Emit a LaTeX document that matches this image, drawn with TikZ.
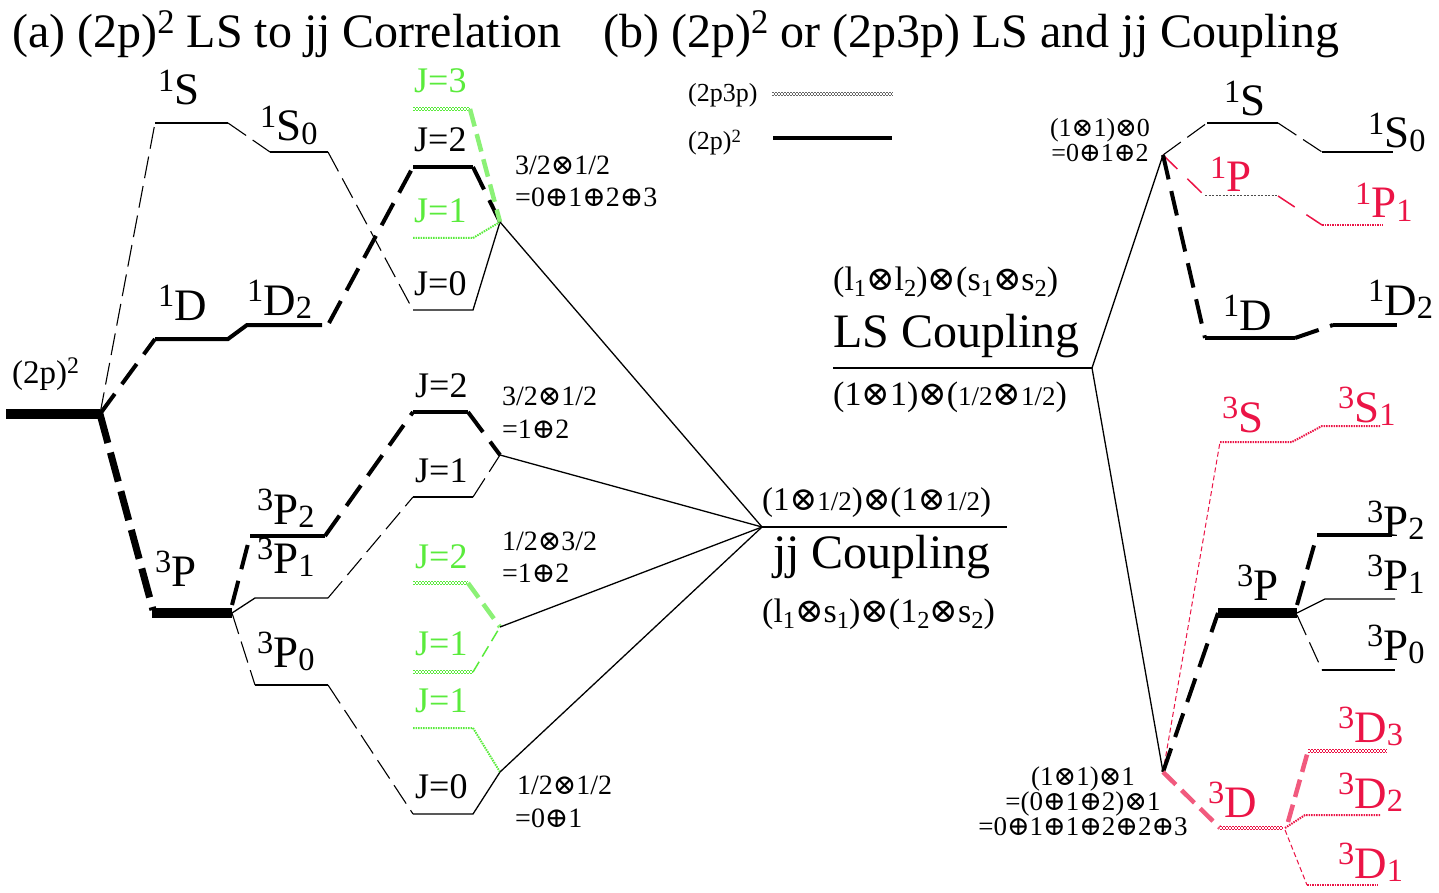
\documentclass[tikz,border=0pt]{standalone}
\usepackage{graphicx}
\usepackage{fontspec}
\setmainfont{Liberation Serif}
\newfontfamily\symf{DejaVu Serif}
\definecolor{lgreen}{RGB}{90,235,60}
\definecolor{pred}{RGB}{235,20,70}
\newcommand{\sps}[1]{\raisebox{0.3em}{\scalebox{0.72}{#1}}}
\newcommand{\sbs}[1]{\raisebox{-0.08em}{\scalebox{0.72}{#1}}}
\newcommand{\sbl}[1]{\raisebox{-0.2em}{\scalebox{0.72}{#1}}}
\newcommand{\trm}[2]{\sps{#1}#2}
\newcommand{\trmj}[3]{\sps{#1}#2\sbs{#3}}
\newcommand{\xot}{{\symf ⊗}}
\newcommand{\xop}{{\symf ⊕}}
\newcommand{\hlf}{{\fontsize{27}{28}\selectfont 1/2}}

\begin{document}
\begin{tikzpicture}[x=1pt,y=-1pt,
  ttl/.style={anchor=base west, inner sep=0pt, font=\fontsize{48}{52}\selectfont},
  trm/.style={anchor=base west, inner sep=0pt, font=\fontsize{45}{50}\selectfont},
  jlab/.style={anchor=base west, inner sep=0pt, font=\fontsize{36}{40}\selectfont},
  note/.style={anchor=base west, inner sep=0pt, font=\fontsize{28}{32}\selectfont},
  sml/.style={anchor=base, inner sep=0pt, font=\fontsize{26}{28}\selectfont},
  thinl/.style={line width=1.3pt},
  lmid/.style={line width=4pt},
  lfat/.style={line width=10pt},
  dthin/.style={line width=1.1pt, dash pattern=on 22pt off 8pt},
  dmid/.style={line width=4pt, dash pattern=on 25pt off 12pt},
  dfat/.style={line width=7pt, dash pattern=on 30pt off 10pt},
  chk/.style={draw=#1, line width=4.5pt, dash pattern=on 1.5pt off 1.5pt,
    postaction={draw=white, line width=1.5pt, dash pattern=on 1.5pt off 1.5pt},
    postaction={draw=#1, line width=1.5pt, dash pattern=on 1.5pt off 1.5pt, dash phase=1.5pt}},
  chkd/.style={draw=#1!70, line width=4.5pt, dash pattern=on 18pt off 8pt},
  gdot/.style={draw=lgreen, line width=2pt, dash pattern=on 1.5pt off 1pt},
  gdash/.style={draw=lgreen, line width=1.5pt, dash pattern=on 12pt off 6pt},
  rdot/.style={draw=pred, line width=2pt, dash pattern=on 1.5pt off 1pt},
  rdash/.style={draw=pred, line width=1.5pt, dash pattern=on 20pt off 14pt},
  rfine/.style={draw=pred, line width=1pt, dash pattern=on 5pt off 3pt}]
\useasboundingbox (0,0) rectangle (1439,893);

% Titles
\node[ttl] (tta) at (12,48) {(a) (2p)\sps{2} LS to jj Correlation};
\node[ttl] (ttb) at (603,48) {(b) (2p)\sps{2} or (2p3p) LS and jj Coupling};

% Branch points
\coordinate (pp) at (100,414);
\coordinate (jA) at (500,222);
\coordinate (jB) at (500,455);
\coordinate (jC) at (500,627);
\coordinate (jD) at (500,772);
\coordinate (jj) at (762,527);
\coordinate (jjend) at (1007,527);
\coordinate (lsbeg) at (833,368);
\coordinate (ls) at (1092,368);
\coordinate (up) at (1163,155);
\coordinate (dn) at (1163,772);

% (a) ground configuration
\draw[lfat] (6,414) -- (pp);
\node[note, font=\fontsize{33}{34}\selectfont] (cfg) at (12,383) {(2p)\sps{2}};

% (a) 1S branch
\draw[dthin] (pp) -- (155,123);
\draw[thinl] (155,123) -- (228,123);
\draw[dthin] (228,123) -- (270,152);
\draw[thinl] (270,152) -- (328,152);
\draw[dthin] (328,152) -- (413,310);
\draw[thinl] (413,310) -- (473,310) -- (jA);

% (a) 1D branch
\draw[dmid] (pp) -- (155,339);
\draw[lmid] (155,339) -- (228,339) -- (247,325) -- (322,325);
\draw[dmid] (329,323) -- (413,167);
\draw[lmid] (413,167) -- (473,167);
\draw[dmid] (473,167) -- (jA);

% (a) 3P branch
\draw[dfat] (pp) -- (153,610);
\draw[lfat] (152,613) -- (232,613);
\draw[dmid] (232,605) -- (250,536);
\draw[lmid] (250,536) -- (325,536);
\draw[dmid] (325,536) -- (413,412);
\draw[lmid] (413,412) -- (468,412);
\draw[dmid] (468,412) -- (jB);
\draw[thinl] (232,613) -- (255,598) -- (328,598);
\draw[dthin] (328,598) -- (413,497);
\draw[thinl] (413,497) -- (473,497);
\draw[dthin] (473,497) -- (jB);
\draw[dthin] (232,613) -- (255,685);
\draw[thinl] (255,685) -- (328,685);
\draw[dthin] (328,685) -- (413,814);
\draw[thinl] (413,814) -- (473,814) -- (jD);

% (a) 2p3p levels
\draw[chk=lgreen] (413,109) -- (470,109);
\draw[chkd=lgreen] (470,109) -- (jA);
\draw[gdot] (413,238) -- (473,238) -- (jA);
\draw[chk=lgreen] (413,583) -- (468,583);
\draw[chkd=lgreen] (468,583) -- (jC);
\draw[chk=lgreen] (413,672) -- (473,672);
\draw[gdash] (473,672) -- (jC);
\draw[gdot] (413,728) -- (473,728) -- (jD);

% (a) labels
\node[trm] (a1s) at (158,105) {\trm{1}{S}};
\node[trm] (a1s0) at (260,141) {\trmj{1}{S}{0}};
\node[trm] (a1d) at (158,320) {\trm{1}{D}};
\node[trm] (a1d2) at (247,315) {\trmj{1}{D}{2}};
\node[trm] (a3p) at (155,586) {\trm{3}{P}};
\node[trm] (a3p2) at (257,524) {\trmj{3}{P}{2}};
\node[trm] (a3p1) at (257,573) {\trmj{3}{P}{1}};
\node[trm] (a3p0) at (257,667) {\trmj{3}{P}{0}};
\node[jlab, lgreen] (j3a) at (414,93) {J=3};
\node[jlab] (j2a) at (414,152) {J=2};
\node[jlab, lgreen] (j1a) at (414,223) {J=1};
\node[jlab] (j0a) at (414,295) {J=0};
\node[jlab] (j2b) at (415,397) {J=2};
\node[jlab] (j1b) at (415,482) {J=1};
\node[jlab, lgreen] (j2c) at (415,568) {J=2};
\node[jlab, lgreen] (j1c) at (415,655) {J=1};
\node[jlab, lgreen] (j1d) at (415,712) {J=1};
\node[jlab] (j0d) at (415,798) {J=0};
\node[note] (ca1) at (515,175) {3/2\xot1/2};
\node[note] (ca2) at (515,207) {=0\xop1\xop2\xop3};
\node[note] (cb1) at (502,405) {3/2\xot1/2};
\node[note] (cb2) at (502,438) {=1\xop2};
\node[note] (cc1) at (502,550) {1/2\xot3/2};
\node[note] (cc2) at (502,582) {=1\xop2};
\node[note] (cd1) at (517,794) {1/2\xot1/2};
\node[note] (cd2) at (515,827) {=0\xop1};

% jj and LS coupling
\draw[thinl] (jA) -- (jj);
\draw[thinl] (jB) -- (jj);
\draw[thinl] (jC) -- (jj);
\draw[thinl] (jD) -- (jj);
\draw[thinl] (jj) -- (jjend);
\node[note, font=\fontsize{33}{34}\selectfont] (jjt) at (762,510) {(1\xot\hlf)\xot(1\xot\hlf)};
\node[ttl] (jjc) at (773,568) {jj Coupling};
\node[note, font=\fontsize{34}{36}\selectfont] (jjb) at (762,622) {(l\sbl{1}\xot s\sbl{1})\xot(1\sbl{2}\xot s\sbl{2})};
\draw[thinl] (lsbeg) -- (ls);
\draw[thinl] (ls) -- (up);
\draw[thinl] (ls) -- (dn);
\node[note, font=\fontsize{34}{36}\selectfont] (lst) at (833,290) {(l\sbl{1}\xot l\sbl{2})\xot(s\sbl{1}\xot s\sbl{2})};
\node[ttl] (lsc) at (833,347) {LS Coupling};
\node[note, font=\fontsize{34}{36}\selectfont] (lsb) at (833,405) {(1\xot1)\xot(\hlf\xot\hlf)};

% Legend
\node[note, font=\fontsize{26}{28}\selectfont] (lg1) at (688,102) {(2p3p)};
\draw[chk=black!60] (772,94) -- (893,94);
\node[note, font=\fontsize{26}{28}\selectfont] (lg2) at (688,150) {(2p)\sps{2}};
\draw[lmid] (773,138) -- (892,138);

% (b) upper group
\draw[dthin] (up) -- (1207,123);
\draw[thinl] (1207,123) -- (1278,123);
\draw[dthin] (1278,123) -- (1322,152);
\draw[thinl] (1322,152) -- (1393,152);
\draw[rdash] (up) -- (1205,196);
\draw[black!70, line width=1pt, dash pattern=on 2pt off 1.5pt] (1205,196) -- (1278,196);
\draw[rdash] (1278,196) -- (1322,225);
\draw[rdot] (1322,225) -- (1383,225);
\draw[dmid] (up) -- (1205,338);
\draw[lmid] (1205,338) -- (1295,338);
\draw[dmid] (1295,338) -- (1333,325);
\draw[lmid] (1333,325) -- (1397,325);
\node[sml] (ub1) at (1100,137) {(1\xot1)\xot0};
\node[sml] (ub2) at (1100,162) {=0\xop1\xop2};
\node[trm] (b1s) at (1224,116) {\trm{1}{S}};
\node[trm] (b1s0) at (1368,148) {\trmj{1}{S}{0}};
\node[trm, pred] (b1p) at (1210,192) {\trm{1}{P}};
\node[trm, pred] (b1p1) at (1355,218) {\trmj{1}{P}{1}};
\node[trm] (b1d) at (1223,330) {\trm{1}{D}};
\node[trm] (b1d2) at (1368,315) {\trmj{1}{D}{2}};

% (b) lower group
\draw[rfine] (dn) -- (1220,442);
\draw[rdot] (1220,442) -- (1292,442) -- (1322,426) -- (1380,426);
\draw[dmid] (dn) -- (1218,613);
\draw[lfat] (1218,613) -- (1297,613);
\draw[dmid] (1297,605) -- (1317,535);
\draw[lmid] (1317,535) -- (1392,535);
\draw[thinl] (1297,613) -- (1325,599) -- (1395,599);
\draw[dthin] (1297,615) -- (1322,670);
\draw[thinl] (1322,670) -- (1395,670);
\draw[chkd=pred] (dn) -- (1220,828);
\draw[chk=pred] (1220,828) -- (1283,828);
\draw[chkd=pred] (1288,822) -- (1308,751);
\draw[chk=pred] (1308,751) -- (1387,751);
\draw[rdot] (1285,828) -- (1305,815) -- (1380,815);
\draw[rfine] (1285,830) -- (1307,885);
\draw[rdot] (1307,885) -- (1378,885);
\node[sml, font=\fontsize{27}{28}\selectfont] (lb1) at (1083,785) {(1\xot1)\xot1};
\node[sml, font=\fontsize{27}{28}\selectfont] (lb2) at (1083,810) {=(0\xop1\xop2)\xot1};
\node[sml, font=\fontsize{27}{28}\selectfont] (lb3) at (1083,835) {=0\xop1\xop1\xop2\xop2\xop3};
\node[trm, pred] (b3s) at (1222,432) {\trm{3}{S}};
\node[trm, pred] (b3s1) at (1338,422) {\trmj{3}{S}{1}};
\node[trm] (b3p) at (1237,600) {\trm{3}{P}};
\node[trm] (b3p2) at (1367,536) {\trmj{3}{P}{2}};
\node[trm] (b3p1) at (1367,590) {\trmj{3}{P}{1}};
\node[trm] (b3p0) at (1367,660) {\trmj{3}{P}{0}};
\node[trm, pred] (b3d) at (1208,817) {\trm{3}{D}};
\node[trm, pred] (b3d3) at (1338,742) {\trmj{3}{D}{3}};
\node[trm, pred] (b3d2) at (1338,808) {\trmj{3}{D}{2}};
\node[trm, pred] (b3d1) at (1338,878) {\trmj{3}{D}{1}};
\end{tikzpicture}
\end{document}
